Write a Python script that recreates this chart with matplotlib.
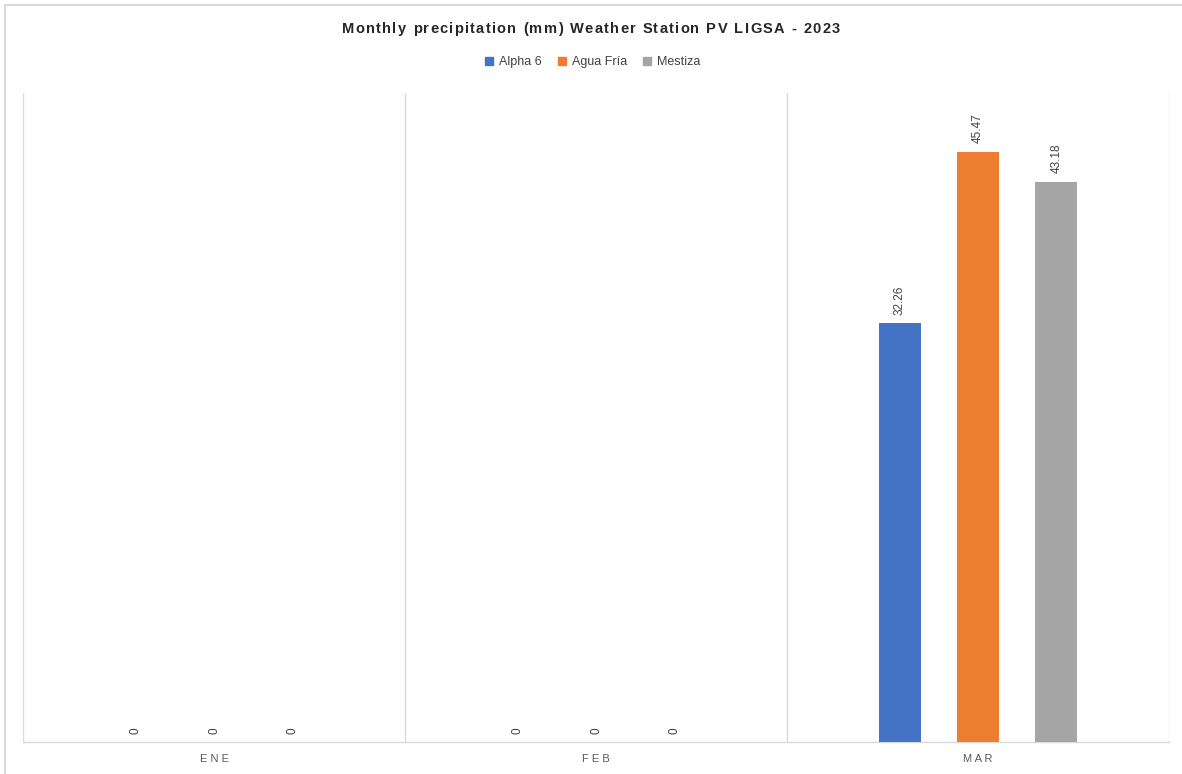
import numpy as np
import matplotlib
matplotlib.use('Agg')
import matplotlib.pyplot as plt
from matplotlib.lines import Line2D

months = ['ENE', 'FEB', 'MAR']
series = ['Alpha 6', 'Agua Fría', 'Mestiza']
alpha6 = [0, 0, 32.26]
agua_fria = [0, 0, 45.47]
mestiza = [0, 0, 43.18]
colors = ['#4472C4', '#ED7D31', '#A5A5A5']
title = 'Monthly precipitation (mm) Weather Station PV LIGSA - 2023'

plt.rcParams['font.family'] = ['Liberation Sans', 'DejaVu Sans']


def spaced_text(fig, s, xc, y, spacing, **kw):
    # draw a string one glyph at a time to get the wide letter spacing
    r = fig.canvas.get_renderer()
    widths = []
    for ch in s:
        t = fig.text(0, 0, ch if ch != ' ' else 'n', **kw)
        w = t.get_window_extent(r).width
        if ch == ' ':
            w *= 0.5
        widths.append(w)
        t.remove()
    total = sum(widths) + spacing * (len(s) - 1)
    x = xc * fig.bbox.width - total / 2
    for ch, w in zip(s, widths):
        if ch != ' ':
            fig.text(x / fig.bbox.width, y, ch, ha='left', va='center', **kw)
        x += w + spacing


fig = plt.figure(figsize=(11.82, 7.74), dpi=100)
ax = fig.add_axes([23/1182, 32/774, 1146/1182, 649/774])

x = np.arange(len(months))
offsets = [-0.205, 0, 0.205]
width = 0.11

for vals, off, col, name in zip([alpha6, agua_fria, mestiza], offsets, colors, series):
    ax.bar(x + off, vals, width, color=col, label=name, zorder=3)
    for xi, v in zip(x + off, vals):
        lbl = '0' if v == 0 else '%.2f' % v
        ax.annotate(lbl, (xi, v), xytext=(0, 6), textcoords='offset points',
                    ha='center', va='bottom', rotation=90, fontsize=8.5,
                    color='#404040')

ax.set_xlim(-0.5, 2.5)
ax.set_ylim(0, 50)
ax.set_yticks([])
ax.set_xticks(x)
ax.set_xticklabels([' '.join(m) for m in months], fontsize=8, color='#595959')
ax.tick_params(axis='x', length=0, pad=9)
for b in [-0.5, 0.5, 1.5, 2.5]:
    ax.axvline(b, color='#D9D9D9', lw=1, zorder=1)
for s in ['top', 'left', 'right']:
    ax.spines[s].set_visible(False)
ax.spines['bottom'].set_color('#D9D9D9')
ax.spines['bottom'].set_linewidth(1)

spaced_text(fig, title, 0.5, 1 - 29/774, 1.3,
            fontsize=10.5, fontweight='bold', color='#262626')

handles = [Line2D([], [], marker='s', ls='', color=c, markersize=5.5) for c in colors]
fig.legend(handles, series, loc='center', bbox_to_anchor=(0.5, 1 - 62/774), ncol=3,
           frameon=False, fontsize=9, handletextpad=0.2, columnspacing=1.0,
           handlelength=1.2, labelcolor='#404040')

# outer chart border
fig.add_artist(Line2D([5/1182, 1], [1 - 5/774, 1 - 5/774], color='#D9D9D9', lw=1.5,
                      transform=fig.transFigure))
fig.add_artist(Line2D([5/1182, 5/1182], [0, 1 - 5/774], color='#D9D9D9', lw=1.5,
                      transform=fig.transFigure))

fig.savefig('out.png', dpi=100)
